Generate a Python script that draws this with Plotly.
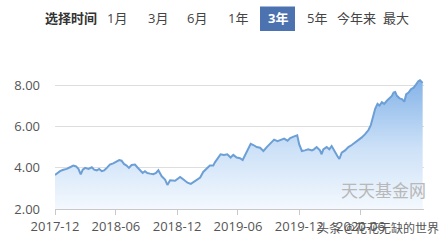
import plotly.graph_objects as go

dates = [
    "2017-12-01", "2017-12-06", "2017-12-16", "2017-12-26", "2018-01-05", "2018-01-15",
    "2018-01-25", "2018-02-02", "2018-02-09", "2018-02-16", "2018-02-22", "2018-03-01",
    "2018-03-11", "2018-03-21", "2018-03-28", "2018-04-05", "2018-04-12", "2018-04-20",
    "2018-04-27", "2018-05-05", "2018-05-14", "2018-05-24", "2018-06-03", "2018-06-11",
    "2018-06-18", "2018-06-25", "2018-07-03", "2018-07-10", "2018-07-18", "2018-07-28",
    "2018-08-04", "2018-08-12", "2018-08-20", "2018-08-27", "2018-09-03", "2018-09-11",
    "2018-09-21", "2018-09-29", "2018-10-06", "2018-10-16", "2018-10-26", "2018-11-02",
    "2018-11-10", "2018-11-25", "2018-12-10", "2018-12-20", "2019-01-01", "2019-01-11",
    "2019-01-24", "2019-02-08", "2019-02-17", "2019-02-27", "2019-03-09", "2019-03-19",
    "2019-03-24", "2019-04-03", "2019-04-10", "2019-04-20", "2019-04-30", "2019-05-10",
    "2019-05-18", "2019-05-28", "2019-06-07", "2019-06-15", "2019-06-27", "2019-07-09",
    "2019-07-17", "2019-07-27", "2019-08-06", "2019-08-16", "2019-08-26", "2019-09-07",
    "2019-09-17", "2019-09-27", "2019-10-07", "2019-10-17", "2019-10-27", "2019-11-04",
    "2019-11-16", "2019-11-25", "2019-12-01", "2019-12-04", "2019-12-09", "2019-12-18",
    "2019-12-28", "2020-01-08", "2020-01-14", "2020-01-22", "2020-02-01", "2020-02-06",
    "2020-02-11", "2020-02-21", "2020-02-29", "2020-03-07", "2020-03-12", "2020-03-17",
    "2020-03-24", "2020-03-30", "2020-04-06", "2020-04-16", "2020-04-26", "2020-05-06",
    "2020-05-16", "2020-05-26", "2020-06-05", "2020-06-15", "2020-06-25", "2020-07-02",
    "2020-07-08", "2020-07-15", "2020-07-22", "2020-07-28", "2020-08-04", "2020-08-11",
    "2020-08-19", "2020-08-27", "2020-09-03", "2020-09-08", "2020-09-13", "2020-09-18",
    "2020-09-26", "2020-10-03", "2020-10-10", "2020-10-16", "2020-10-23", "2020-10-30",
    "2020-11-07", "2020-11-14", "2020-11-21", "2020-11-26", "2020-12-01", "2020-12-04",
]
values = [
    3.65, 3.72, 3.84, 3.91, 3.95, 4.03,
    4.11, 4.07, 3.95, 3.68, 3.91, 4.00,
    3.95, 4.03, 3.91, 3.88, 3.95, 3.84,
    3.88, 4.00, 4.16, 4.22, 4.32, 4.38,
    4.35, 4.19, 4.11, 4.00, 4.14, 4.16,
    4.03, 3.88, 3.75, 3.84, 3.75, 3.72,
    3.69, 3.75, 3.88, 3.59, 3.43, 3.17,
    3.40, 3.37, 3.56, 3.43, 3.28, 3.22,
    3.37, 3.53, 3.80, 3.95, 4.11, 4.11,
    4.27, 4.50, 4.66, 4.63, 4.66, 4.50,
    4.63, 4.50, 4.47, 4.38, 4.74, 5.17,
    5.11, 5.01, 4.98, 4.82, 5.01, 5.22,
    5.37, 5.30, 5.37, 5.42, 5.32, 5.45,
    5.53, 5.58, 5.14, 4.98, 4.82, 4.85,
    4.90, 4.85, 4.90, 5.01, 4.85, 4.66,
    4.90, 5.01, 4.90, 5.06, 4.90, 4.74,
    4.58, 4.43, 4.74, 4.85, 5.01, 5.11,
    5.22, 5.37, 5.48, 5.64, 5.84, 6.08,
    6.40, 6.87, 7.11, 7.03, 7.19, 7.11,
    7.26, 7.38, 7.50, 7.66, 7.69, 7.50,
    7.38, 7.34, 7.22, 7.58, 7.66, 7.82,
    7.90, 8.05, 8.21, 8.26, 8.16, 8.13,
]

tick_dates = ["2017-12-01", "2018-06-01", "2018-12-01", "2019-06-01", "2019-12-01", "2020-06-01"]
tick_labels = ["2017-12", "2018-06", "2018-12", "2019-06", "2019-12", "2020-06"]
y_ticks = [2, 4, 6, 8]

header_title = "选择时间"
buttons = ["1月", "3月", "6月", "1年", "3年", "5年", "今年来", "最大"]
selected = "3年"

FONT = "Open Sans, Noto Sans CJK SC, sans-serif"
W, H = 442, 247
ML, MR, MT, MB = 55, 18, 65, 34
PW, PH = W - ML - MR, H - MT - MB


def px(x):
    return (x - ML) / PW


def py(y):
    return (H - MB - y) / PH


def label(x, y, text, size, color, bold=False):
    fig.add_annotation(x=px(x), y=py(y), xref="paper", yref="paper",
                       xanchor="center", yanchor="middle",
                       text=("<b>" + text + "</b>") if bold else text, showarrow=False,
                       font=dict(size=size, color=color, family=FONT))


fig = go.Figure()
fig.add_trace(go.Scatter(
    x=dates, y=values, mode="lines",
    line=dict(color="#6c9fd6", width=2),
    fill="tozeroy",
    fillgradient=dict(type="vertical", start=2, stop=8.3,
                      colorscale=[[0, "rgba(246,250,254,1)"], [0.5, "rgba(203,224,247,1)"], [1, "rgba(132,179,232,1)"]]),
    hoverinfo="skip", showlegend=False,
))

fig.update_layout(
    width=W, height=H,
    margin=dict(l=ML, r=MR, t=MT, b=MB),
    paper_bgcolor="white", plot_bgcolor="white",
    font=dict(family=FONT, size=13, color="#555"),
    xaxis=dict(
        type="date", range=["2017-12-01", "2020-12-08"],
        tickvals=tick_dates, ticktext=tick_labels,
        showgrid=False, showline=True, linecolor="#c8c8c8", linewidth=1,
        ticks="outside", ticklen=5, tickcolor="#c8c8c8",
        tickfont=dict(size=13, color="#555"),
        zeroline=False, fixedrange=True,
    ),
    yaxis=dict(
        range=[2, 9], tickvals=y_ticks, tickformat=".2f",
        showgrid=True, gridcolor="#dedede", gridwidth=1,
        zeroline=False, showline=False, ticks="",
        ticklabelstandoff=14,
        tickfont=dict(size=13, color="#555"),
    ),
)

# header
label(71, 17, header_title, 13, "#333", bold=True)
btn_x = [117, 158, 197, 238, 277.5, 317, 356, 396]
for b, bx in zip(buttons, btn_x):
    if b == selected:
        fig.add_shape(type="rect", xref="paper", yref="paper",
                      x0=px(260), x1=px(295), y0=py(30), y1=py(5),
                      fillcolor="#4c72b0", line=dict(width=0), layer="below")
        label(bx, 17, b, 13, "white", bold=True)
    else:
        label(bx, 17, b, 13, "#444")

# watermarks
label(383, 194, "天天基金网", 17, "#b8b8b8")
label(378, 233, "头条 @花花无缺的世界", 12, "#555")

fig.write_html("out.html")
